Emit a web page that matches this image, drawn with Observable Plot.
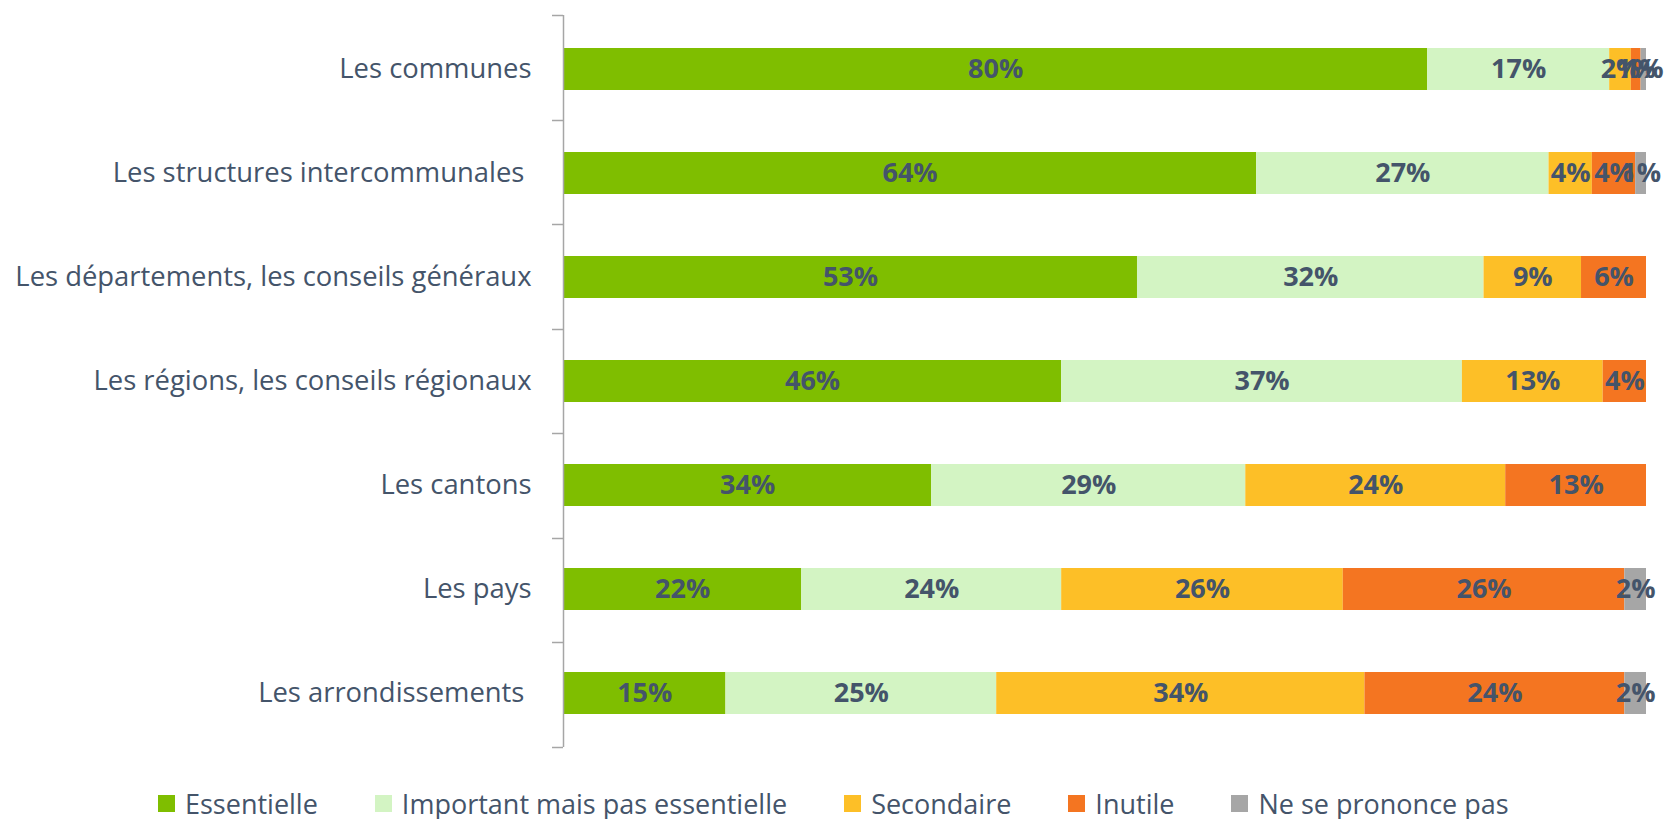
<!DOCTYPE html>
<html>
<head>
<meta charset="utf-8">
<script src="https://cdn.jsdelivr.net/npm/d3@7"></script>
<script src="https://cdn.jsdelivr.net/npm/@observablehq/plot@0.6"></script>
<style>
  html, body { margin: 0; padding: 0; background: #fff; }
  #chart { width: 1667px; height: 770px; }
  #legend {
    display: flex; align-items: center; height: 49px;
    padding-left: 158px; padding-top: 18px; box-sizing: border-box;
    font-family: "Open Sans", sans-serif; font-size: 27px; line-height: 27px; color: #44546a;
  }
  .item { display: flex; align-items: center; margin-right: 57px; line-height: 27px; }
  .sw { width: 17px; height: 17px; margin-right: 10px; }
</style>
</head>
<body>
<div id="chart"></div>
<div id="legend"></div>
<script>
const categories = [
  "Les communes",
  "Les structures intercommunales\u00a0",
  "Les départements, les conseils généraux",
  "Les régions, les conseils régionaux",
  "Les cantons",
  "Les pays",
  "Les arrondissements\u00a0"
];
const seriesNames = ["Essentielle", "Important mais pas essentielle", "Secondaire", "Inutile", "Ne se prononce pas"];
const seriesColors = ["#7fbe00", "#d3f4c3", "#fdbf27", "#f47521", "#a6a6a6"];

const essentielle = [79.8, 64, 53, 46, 34, 22, 15];
const important   = [16.8, 27, 32, 37, 29, 24, 25];
const secondaire  = [2.0, 4, 9, 13, 24, 26, 34];
const inutile     = [0.9, 4, 6, 4, 13, 26, 24];
const nsp         = [0.5, 1, 0, 0, 0, 2, 2];

const seriesValues = [essentielle, important, secondaire, inutile, nsp];

const data = [];
categories.forEach((c, i) => {
  seriesNames.forEach((s, j) => {
    data.push({cat: c, series: s, value: seriesValues[j][i]});
  });
});

const textColor = "#44546a";

// Excel-style category tick marks at band boundaries
function boundaryTicks(index, scales, values, dimensions) {
  const g = d3.create("svg:g");
  const n = categories.length;
  const top = dimensions.marginTop;
  const bottom = dimensions.height - dimensions.marginBottom;
  const step = (bottom - top) / n;
  const x0 = dimensions.marginLeft;
  for (let k = 0; k <= n; k++) {
    const yy = Math.round(top + k * step) + 0.5;
    g.append("line")
      .attr("x1", x0 - 11).attr("x2", x0)
      .attr("y1", yy).attr("y2", yy)
      .attr("stroke", "#a6a6a6").attr("stroke-width", 1.5);
  }
  return g.node();
}

const chart = Plot.plot({
  width: 1667,
  height: 770,
  marginLeft: 563,
  marginRight: 21,
  marginTop: 15,
  marginBottom: 23,
  style: {fontFamily: "Open Sans, sans-serif", color: textColor, background: "#fff"},
  x: {domain: [0, 100], axis: null},
  y: {domain: categories, paddingInner: 0.6, paddingOuter: 0.3, label: null},
  color: {domain: seriesNames, range: seriesColors},
  marks: [
    Plot.barX(data, {y: "cat", x: "value", fill: "series", z: "series"}),
    Plot.text(data.filter(d => d.value > 0), Plot.stackX({
      y: "cat", x: "value", z: "series",
      text: d => Math.round(d.value) + "%",
      fill: textColor, fontWeight: "bold", fontSize: 27
    })),
    Plot.ruleX([0], {stroke: "#a6a6a6", strokeWidth: 1.5}),
    Plot.axisY({tickSize: 0, tickPadding: 32, fontSize: 27.4, fill: textColor, label: null}),
    boundaryTicks
  ]
});
document.getElementById("chart").appendChild(chart);

const legend = d3.select("#legend");
seriesNames.forEach((s, i) => {
  const it = legend.append("div").attr("class", "item");
  it.append("div").attr("class", "sw").style("background", seriesColors[i]);
  it.append("span").text(s);
});
</script>
</body>
</html>
